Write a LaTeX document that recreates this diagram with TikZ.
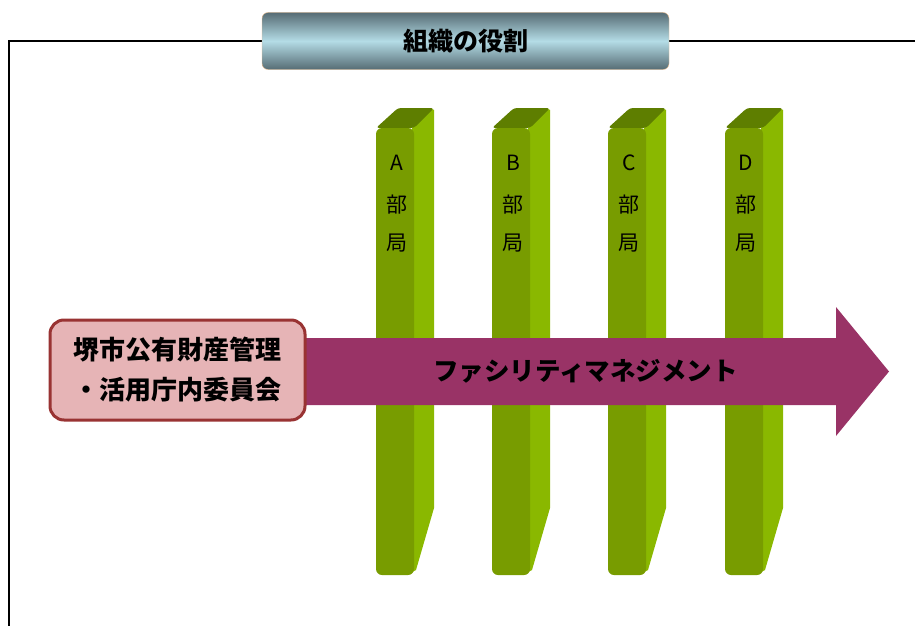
\documentclass[tikz,border=0pt]{standalone}
\usepackage{fontspec}
\setmainfont{Noto Sans CJK JP}
\usepackage{tikz}
\usetikzlibrary{positioning}
\definecolor{ttdark}{RGB}{86,108,116}
\definecolor{ttlight}{RGB}{180,220,230}
\definecolor{ttborder}{RGB}{240,192,144}
\definecolor{barfront}{RGB}{120,156,0}
\definecolor{barside}{RGB}{138,184,0}
\definecolor{bartop}{RGB}{94,126,0}
\definecolor{cmtfill}{RGB}{230,180,182}
\definecolor{cmtborder}{RGB}{153,51,51}
\definecolor{fmpurple}{RGB}{153,51,102}
\tikzset{
  titlebox/.style={draw=ttborder,rounded corners=6pt,minimum width=407pt,minimum height=57pt,
    top color=ttdark,bottom color=ttdark,middle color=ttlight,
    font=\fontsize{25}{30}\selectfont\bfseries},
  cmtbox/.style={draw=cmtborder,line width=3pt,fill=cmtfill,rounded corners=14pt,
    minimum width=255pt,minimum height=100pt,align=center,
    font=\fontsize{26}{40}\selectfont\bfseries},
  barlabel/.style={font=\fontsize{21}{24}\selectfont,inner sep=0pt},
  fmlabel/.style={font=\fontsize{25.5}{30}\selectfont\bfseries}
}
\begin{document}
\begin{tikzpicture}[x=1pt,y=-1pt]
  \useasboundingbox (0,0) rectangle (915,626);
  % Frame
  \draw[line width=2pt] (9,626) -- (9,41) -- (915,41);
  % Title
  \node[titlebox] (title) at (465.5,41) {組織の役割};
  % Four bars
  \foreach \x/\l in {376/A,492/B,608/C,725/D}{
    \fill[barside] (\x+36,128) -- (\x+54,108) -- (\x+58,110) -- (\x+58,508) -- (\x+40,570) -- (\x+36,572) -- cycle;
    \fill[bartop,rounded corners=3pt] (\x,128) -- (\x+22,108) -- (\x+58,108) -- (\x+38,128) -- cycle;
    \fill[barfront,rounded corners=6pt] (\x,128) rectangle (\x+38,575);
    \node[barlabel] (bar\l1) at (\x+21,163) {\l};
    \node[barlabel] (bar\l2) at (\x+21,205) {部};
    \node[barlabel] (bar\l3) at (\x+21,243) {局};
  }
  % Arrow
  \fill[fmpurple] (300,338) -- (836,338) -- (836,307) -- (889,371.5) -- (836,436) -- (836,405) -- (300,405) -- cycle;
  \node[fmlabel] (fm) at (585.5,371) {ファシリティマネジメント};
  % Committee
  \node[cmtbox] (cmt) at (177.5,370) {堺市公有財産管理\\・活用庁内委員会};
\end{tikzpicture}
\end{document}
